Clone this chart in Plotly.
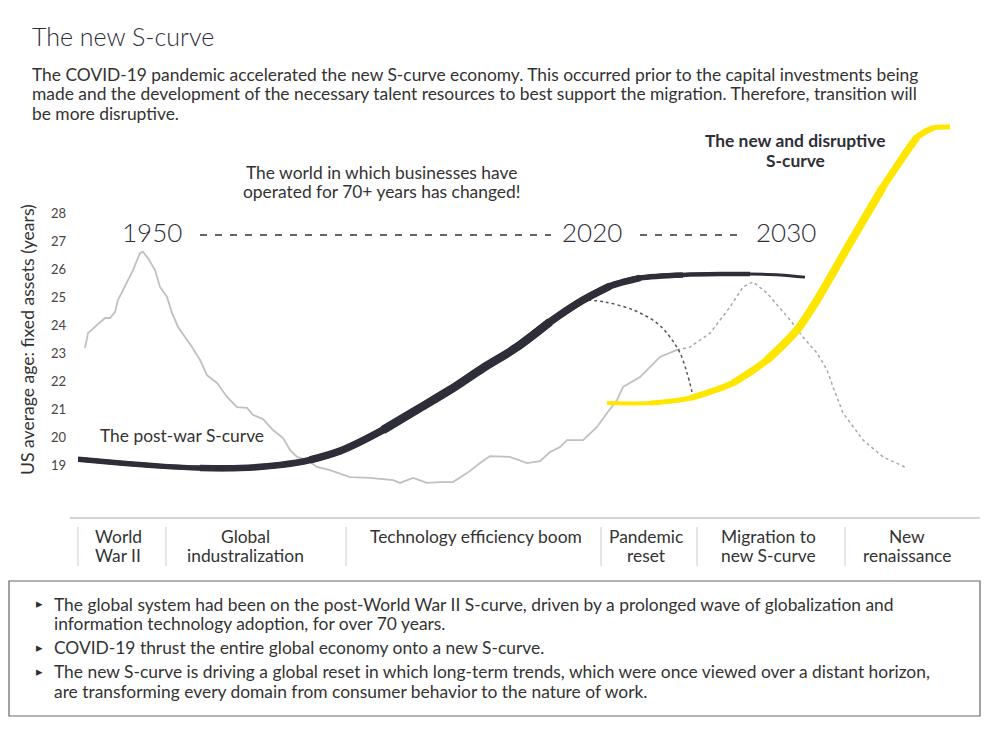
import plotly.graph_objects as go

# timeline position (0 = left edge of chart, 100 = right edge) and US average age of fixed assets (years)
postwar_x = [0.0, 4.66, 9.09, 13.53, 17.96, 22.39, 25.72, 29.05, 33.81, 37.92, 41.24, 44.9,
             48.67, 52.33, 55.99, 58.98, 62.31, 67.07, 71.18, 74.5, 77.83, 80.6]
postwar_y = [19.21, 19.07, 18.96, 18.89, 18.89, 19.0, 19.18, 19.5, 20.25, 21.04, 21.68, 22.46,
             23.21, 24.11, 24.89, 25.39, 25.68, 25.79, 25.82, 25.82, 25.79, 25.71]

new_x = [58.65, 63.41, 67.85, 72.62, 76.39, 79.71, 81.93, 85.59, 89.25, 93.02, 94.79, 96.67]
new_y = [21.21, 21.21, 21.39, 21.93, 22.75, 23.82, 24.89, 26.93, 28.93, 30.71, 31.04, 31.07]

actual_x = [0.78, 1.11, 2.11, 3.0, 3.55, 4.1, 4.43, 5.43, 6.1, 6.87, 7.21, 7.76, 8.54, 9.09, 9.87,
            10.42, 11.09, 11.86, 12.64, 13.53, 14.3, 15.41, 16.52, 17.63, 18.74, 19.4, 20.51,
            21.62, 22.73, 23.5, 24.28, 25.39, 26.5, 27.94, 30.16, 32.37, 34.92, 35.7, 37.14,
            38.69, 40.13, 41.57, 43.13, 44.57, 45.68, 47.89, 49.78, 51.22, 52.33, 53.44, 54.21,
            55.99, 57.54, 58.65, 59.76, 60.42, 61.2, 62.31, 64.52, 66.41]
actual_y = [23.18, 23.71, 24.0, 24.25, 24.25, 24.46, 24.89, 25.5, 25.96, 26.57, 26.61, 26.39,
            25.96, 25.36, 25.0, 24.43, 23.93, 23.57, 23.21, 22.75, 22.21, 21.93, 21.43, 21.07,
            21.04, 20.79, 20.64, 20.25, 19.96, 19.54, 19.29, 19.18, 18.93, 18.82, 18.57, 18.54,
            18.46, 18.36, 18.54, 18.36, 18.39, 18.39, 18.71, 19.07, 19.32, 19.29, 19.07, 19.14,
            19.46, 19.64, 19.89, 19.89, 20.36, 20.86, 21.32, 21.79, 21.93, 22.14, 22.86, 23.11]

proj_x = [66.41, 67.85, 70.07, 72.28, 73.73, 74.83, 76.39, 78.94, 80.38, 81.93, 83.04, 83.7,
          84.81, 87.03, 89.25, 91.91]
proj_y = [23.11, 23.21, 23.71, 24.64, 25.36, 25.54, 25.14, 24.18, 23.57, 23.0, 22.39, 21.79,
          20.86, 19.89, 19.29, 18.89]

decline_x = [56.54, 58.43, 61.53, 64.19, 65.63, 66.74, 67.52, 68.07]
decline_y = [24.89, 24.82, 24.54, 24.07, 23.57, 23.0, 22.29, 21.61]

y_ticks = [19, 20, 21, 22, 23, 24, 25, 26, 27, 28]

eras = [["World", "War II"], ["Global", "industralization"], ["Technology efficiency boom"],
        ["Pandemic", "reset"], ["Migration to", "new S-curve"], ["New", "renaissance"]]
era_centers = [118, 245, 476, 646, 768, 907]
era_dividers = [78, 166, 346, 601, 697, 845]

title = "The new S-curve"
subtitle = ["The COVID-19 pandemic accelerated the new S-curve economy. This occurred prior to the capital investments being",
            "made and the development of the necessary talent resources to best support the migration. Therefore, transition will",
            "be more disruptive."]
bullets = [["The global system had been on the post-World War II S-curve, driven by a prolonged wave of globalization and",
            "information technology adoption, for over 70 years."],
           ["COVID-19 thrust the entire global economy onto a new S-curve."],
           ["The new S-curve is driving a global reset in which long-term trends, which were once viewed over a distant horizon,",
            "are transforming every domain from consumer behavior to the nature of work."]]

FONT = "Lato"
INK = "#2e2e38"
L, R, T, B = 78, 980, 120, 518
FS = 17.4


def px(x):
    return (x - L) / (R - L)


def py(y):
    return (B - y) / (B - T)


def tapered(fig, xs, ys, color, layers):
    # stack narrower-to-wider strokes over shrinking index ranges to fake a tapered brush line
    for w, a, b in layers:
        fig.add_trace(go.Scatter(x=xs[a:b], y=ys[a:b], mode="lines",
                                 line=dict(color=color, width=w, shape="spline", smoothing=0.8),
                                 hoverinfo="skip", showlegend=False))


fig = go.Figure()
fig.add_trace(go.Scatter(x=actual_x, y=actual_y, mode="lines",
                         line=dict(color="#c0c0c0", width=1.8), showlegend=False))
fig.add_trace(go.Scatter(x=proj_x, y=proj_y, mode="lines",
                         line=dict(color="#a3a9b3", width=1.5, dash="dot"), showlegend=False))
fig.add_trace(go.Scatter(x=decline_x, y=decline_y, mode="lines",
                         line=dict(color="#555555", width=1.5, dash="dot", shape="spline"), showlegend=False))
tapered(fig, postwar_x, postwar_y, INK, [(3, 0, 22), (4.5, 0, 20), (5.5, 0, 18), (6.5, 3, 17), (7.5, 6, 16), (8.5, 8, 14)])
tapered(fig, new_x, new_y, "#ffe600", [(4, 0, 12), (5, 1, 12), (6, 2, 11), (7, 3, 10), (8, 4, 9)])

ann = []
shapes = []


def text(x, y, s, size, anchor="left", color="#333333", weight=None):
    f = dict(size=size, color=color, family=FONT)
    if weight:
        f["weight"] = weight
    ann.append(dict(x=px(x), y=py(y), xref="paper", yref="paper", text=s, showarrow=False,
                    xanchor=anchor, yanchor="middle", font=f))


text(30, 36, title, 25, color=INK, weight=300)
for i, line in enumerate(subtitle):
    text(30, 74 + i * 19.5, line, FS)

text(381, 172, "The world in which businesses have", FS, "center")
text(381, 191, "operated for 70+ years has changed!", FS, "center")
text(152, 232, "1950", 26, "center", INK, 300)
text(592, 232, "2020", 26, "center", INK, 300)
text(786, 232, "2030", 26, "center", INK, 300)
text(98, 435, "The post-war S-curve", FS)
text(795, 141, "<b>The new and disruptive</b>", FS, "center", INK)
text(795, 160, "<b>S-curve</b>", FS, "center", INK)

for a, b in [(200, 551), (640, 742)]:
    shapes.append(dict(type="line", xref="paper", yref="paper", x0=px(a), x1=px(b), y0=py(235), y1=py(235),
                       line=dict(color="#333333", width=1.4, dash="7px,8px")))

# era strip
shapes.append(dict(type="line", xref="paper", yref="paper", x0=px(70), x1=px(980), y0=py(518), y1=py(518),
                   line=dict(color="#d4d4d4", width=2)))
for d in era_dividers:
    shapes.append(dict(type="line", xref="paper", yref="paper", x0=px(d), x1=px(d), y0=py(527), y1=py(566),
                       line=dict(color="#cccccc", width=1)))
for c, lines in zip(era_centers, eras):
    for j, line in enumerate(lines):
        text(c, 536 + j * 19.5, line, FS, "center")

# bullet box
shapes.append(dict(type="rect", xref="paper", yref="paper", x0=px(9), x1=px(980), y0=py(581), y1=py(716),
                   line=dict(color="#666666", width=1.2)))
yy = 604
for lines in bullets:
    text(34, yy - 1, "▸", 13, color=INK)
    for line in lines:
        text(52, yy, line, FS)
        yy += 19.5
    yy += 4.5

ann.append(dict(x=px(27), y=py(340), xref="paper", yref="paper", text="US average age: fixed assets (years)",
                showarrow=False, textangle=-90, xanchor="center", yanchor="middle",
                font=dict(size=17.6, color="#333333", family=FONT)))

fig.update_layout(
    width=1000, height=750,
    margin=dict(l=L, r=1000 - R, t=T, b=750 - B),
    paper_bgcolor="white", plot_bgcolor="white",
    annotations=ann, shapes=shapes,
    xaxis=dict(range=[0, 100], visible=False),
    yaxis=dict(range=[28 - (B - 213) / 28, 28 + (213 - T) / 28], tickvals=y_ticks, showgrid=False,
               zeroline=False, showline=False, ticklabelstandoff=11,
               tickfont=dict(size=13, color="#444444", family=FONT)),
)

fig.write_html("out.html", config={"displayModeBar": False},
               post_script="document.body.style.margin='0';")
